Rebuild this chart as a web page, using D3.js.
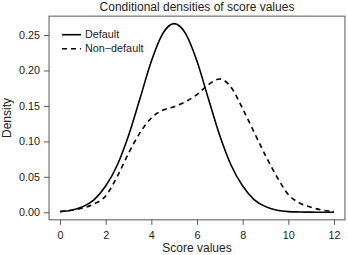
<!DOCTYPE html>
<html>
<head>
<meta charset="utf-8">
<script src="https://cdn.jsdelivr.net/npm/d3@7"></script>
<style>
  body { margin: 0; background: #fff; }
  svg { display: block; font-family: "Liberation Sans", Arial, sans-serif; }
</style>
</head>
<body>
<svg id="chart" width="348" height="255"></svg>
<script>
// score grid (x) and the two density curves
var scores = [0, 0.5, 1, 1.5, 2, 2.5, 3, 3.5, 4, 4.5, 5, 5.5, 6, 6.5, 7, 7.5, 8, 8.5, 9, 9.5, 10, 10.5, 11, 11.5, 12]
var defaultDens = [0.001, 0.003, 0.008, 0.018, 0.037, 0.066, 0.108, 0.160, 0.213, 0.252, 0.266, 0.252, 0.213, 0.160, 0.108, 0.066, 0.037, 0.018, 0.008, 0.003, 0.001, 0.0005, 0.0002, 0.0001, 0.0]
var nonDefaultDens = [0.001, 0.003, 0.006, 0.012, 0.023, 0.050, 0.083, 0.112, 0.133, 0.144, 0.149, 0.156, 0.166, 0.180, 0.188, 0.176, 0.146, 0.113, 0.080, 0.050, 0.025, 0.013, 0.007, 0.003, 0.001]
var xTicks = [0, 2, 4, 6, 8, 10, 12]
var yTicks = [0, 0.05, 0.10, 0.15, 0.20, 0.25]
var seriesNames = ["Default", "Non\u2212default"]

var svg = d3.select("#chart")
var ink = "#222"
var boxInk = "#555"

var x = d3.scaleLinear().domain([0, 12]).range([60, 334])
var y = d3.scaleLinear().domain([0, 0.25]).range([212.3, 35])

// plot region (R style 4% padding)
var x0 = x(-0.48), x1 = x(12.48)
var y0 = y(-0.0106), y1 = y(0.2766)

svg.append("rect")
  .attr("x", x0).attr("y", y1)
  .attr("width", x1 - x0).attr("height", y0 - y1)
  .attr("fill", "none").attr("stroke", boxInk).attr("stroke-width", 1)

var xAxis = svg.append("g")
  .attr("transform", "translate(0," + y0 + ")")
  .call(d3.axisBottom(x).tickValues(xTicks).tickSize(5).tickPadding(7).tickFormat(d3.format("d")))
xAxis.select(".domain").remove()

var yAxis = svg.append("g")
  .attr("transform", "translate(" + x0 + ",0)")
  .call(d3.axisLeft(y).tickValues(yTicks).tickSize(5).tickPadding(4).tickFormat(d3.format(".2f")))
yAxis.select(".domain").remove()

svg.selectAll(".tick line").attr("stroke", boxInk)
svg.selectAll(".tick text").attr("fill", ink).style("font-size", "10.8px").style("font-family", "Liberation Sans, Arial, sans-serif")

// curves
var line = d3.line()
  .x(function(d, i){ return x(scores[i]) })
  .y(function(d){ return y(d) })
  .curve(d3.curveMonotoneX)

svg.append("path").datum(defaultDens)
  .attr("d", line)
  .attr("fill", "none").attr("stroke", "#000").attr("stroke-width", 1.6)

svg.append("path").datum(nonDefaultDens)
  .attr("d", line)
  .attr("fill", "none").attr("stroke", "#000").attr("stroke-width", 1.6)
  .attr("stroke-dasharray", "5,4")

// legend
var legend = svg.append("g")
seriesNames.forEach(function(name, i){
  var ly = 34.7 + i * 14
  legend.append("line")
    .attr("x1", 62).attr("x2", 81).attr("y1", ly).attr("y2", ly)
    .attr("stroke", "#000").attr("stroke-width", 1.6)
    .attr("stroke-dasharray", i == 1 ? "5,4" : null)
  legend.append("text")
    .attr("x", 85).attr("y", ly).attr("dy", "0.35em")
    .attr("fill", ink).style("font-size", "10.8px")
    .text(name)
})

// titles
svg.append("text")
  .attr("x", (x0 + x1) / 2).attr("y", 11)
  .attr("text-anchor", "middle").attr("fill", ink)
  .style("font-size", "12px")
  .text("Conditional densities of score values")

svg.append("text")
  .attr("x", (x0 + x1) / 2).attr("y", 252)
  .attr("text-anchor", "middle").attr("fill", ink)
  .style("font-size", "12px")
  .text("Score values")

svg.append("text")
  .attr("transform", "translate(11," + ((y0 + y1) / 2) + ") rotate(-90)")
  .attr("text-anchor", "middle").attr("fill", ink)
  .style("font-size", "12px")
  .text("Density")
</script>
</body>
</html>
